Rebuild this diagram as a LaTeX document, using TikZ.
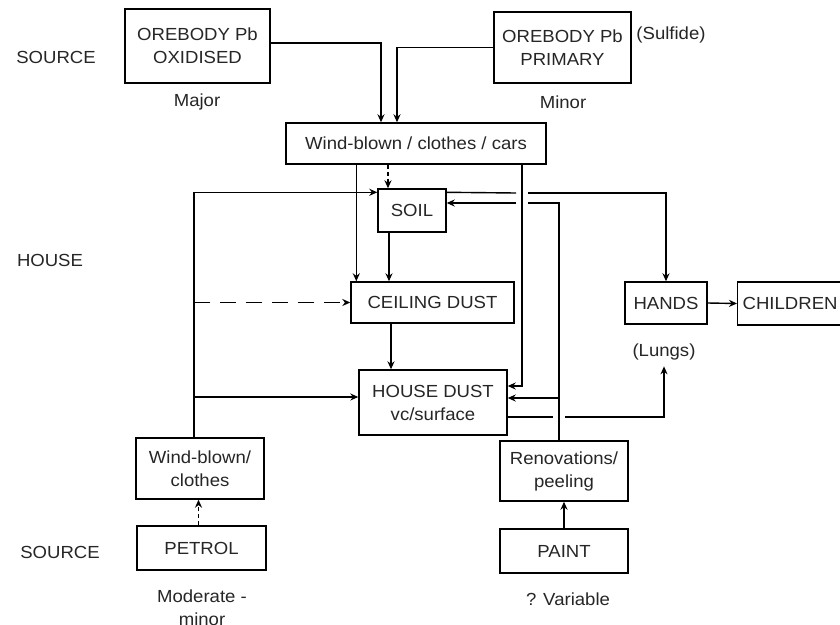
\documentclass[tikz,border=0pt]{standalone}
\usepackage{fontspec}
\setmainfont{Liberation Sans}[FakeStretch=1.06]
\usetikzlibrary{arrows.meta,calc}
\begin{document}
\begin{tikzpicture}[x=1pt,y=-1pt,
  every node/.style={font=\fontsize{17.5}{23}\selectfont, text=black!85, inner sep=0pt},
  box/.style={draw, line width=1.4pt, align=center},
  lbl/.style={align=center},
  arr/.style={line width=1.4pt, -{Stealth[length=8pt,width=7pt]}},
  ln/.style={line width=1.4pt},
  shortdash/.style={dash pattern=on 4pt off 3pt},
  longdash/.style={dash pattern=on 16pt off 10pt}]
\clip (0,0) rectangle (840,624);
\fill[white] (0,0) rectangle (840,624);

% labels
\node[lbl] (src1) at (56,57) {SOURCE};
\node[lbl] (house) at (50,260) {HOUSE};
\node[lbl] (src2) at (60,552) {SOURCE};
\node[lbl] (major) at (197,102) {Major};
\node[lbl] (minor) at (563,102) {Minor};
\node[lbl] (sulf) at (671,35) {(Sulfide)};
\node[lbl] (lungs) at (664,352) {(Lungs)};
\node[lbl] (moder) at (202,608) {Moderate -\\minor};
\node[lbl] (var) at (568,599) {? Variable};

% boxes
\node[box, minimum width=145pt, minimum height=74pt] (ox) at (197.5,46) {OREBODY Pb\\OXIDISED};
\node[box, minimum width=137pt, minimum height=71pt] (pr) at (562.5,47.5) {OREBODY Pb\\PRIMARY};
\node[box, minimum width=260pt, minimum height=41pt] (wind) at (416,143.5) {Wind-blown / clothes / cars};
\node[box, minimum width=68pt, minimum height=43pt] (soil) at (412,210.5) {SOIL};
\node[box, minimum width=163pt, minimum height=41pt] (ceil) at (432.5,302.5) {CEILING DUST};
\node[box, minimum width=148pt, minimum height=65pt] (hd) at (433,402.5) {HOUSE DUST\\vc/surface};
\node[box, minimum width=82pt, minimum height=42pt] (hands) at (666,303) {HANDS};
\node[box, anchor=west, text width=120pt, inner xsep=5pt, minimum height=43pt, align=left] (child) at (737,303.5) {CHILDREN};
\node[box, minimum width=128pt, minimum height=61pt] (wbc) at (200,468.5) {Wind-blown/\\clothes};
\node[box, minimum width=129pt, minimum height=44pt] (petrol) at (201.5,548) {PETROL};
\node[box, minimum width=128pt, minimum height=60pt] (ren) at (564,471) {Renovations/\\peeling};
\node[box, minimum width=128pt, minimum height=44pt] (paint) at (564,551) {PAINT};

% coordinates
\coordinate (L) at ([xshift=-6pt]wbc.north);
\coordinate (R) at ([xshift=-5pt]ren.north);
\coordinate (hdw) at ([yshift=5.5pt]hd.west);
\coordinate (hde1) at ([yshift=16.5pt]hd.east);
\coordinate (hde2) at ([yshift=4.5pt]hd.east);
\coordinate (soilnw) at ([yshift=-4pt]soil.north west);
\coordinate (soilne) at ([yshift=-4pt]soil.north east);

% sources to wind-blown
\draw[arr] ([yshift=3pt]ox.east) -| ([xshift=-35pt]wind.north);
\draw[arr] (pr.west) -| ([xshift=-19pt]wind.north);

% wind-blown to soil / ceiling
\draw[arr, shortdash] ([xshift=-24pt]soil.north |- wind.south) -- ([xshift=-24pt]soil.north);
\draw[arr] ([xshift=6pt]ceil.north west |- wind.south) -- ([xshift=6pt]ceil.north west);
\draw[arr] ([xshift=-23pt]soil.south) -- ([xshift=-23pt]soil.south |- ceil.north);
\draw[arr] ([xshift=-41.5pt]ceil.south) -- ([xshift=-41.5pt]ceil.south |- hd.north);

% left loop
\draw[arr] (L) |- (soilnw);
\draw[arr, longdash] (L |- ceil.west) -- (ceil.west);
\draw[arr] (L |- hdw) -- (hdw);

% soil to hands (with gap at crossing)
\coordinate (g1a) at (516,193);
\coordinate (g1b) at (528,193);
\draw[ln] (soilne) -- (g1a);
\draw[arr] (g1b) -| (hands.north);

% renovations to soil and house dust
\coordinate (g2a) at (516,203);
\coordinate (g2b) at (528,203);
\draw[ln] (R) |- (g2b);
\draw[arr] (g2a) -- (soil.east |- g2a);
\draw[arr] (R |- hde2) -- (hde2);

% wind-blown to house dust
\draw[arr] ([xshift=106pt]wind.south) |- (hde1);

% house dust to lungs (with gap)
\coordinate (g3a) at (553,417);
\coordinate (g3b) at (565,417);
\draw[ln] (hd.east |- g3a) -- (g3a);
\draw[arr] (g3b) -| ([yshift=-6pt]lungs.south);

% hands to children
\draw[arr] (hands.east) -- (child.west);

% bottom sources
\draw[arr, shortdash] ([xshift=-3pt]petrol.north) -- ([xshift=-3pt]petrol.north |- wbc.south);
\draw[arr] (paint.north) -- (ren.south);
\end{tikzpicture}
\end{document}
